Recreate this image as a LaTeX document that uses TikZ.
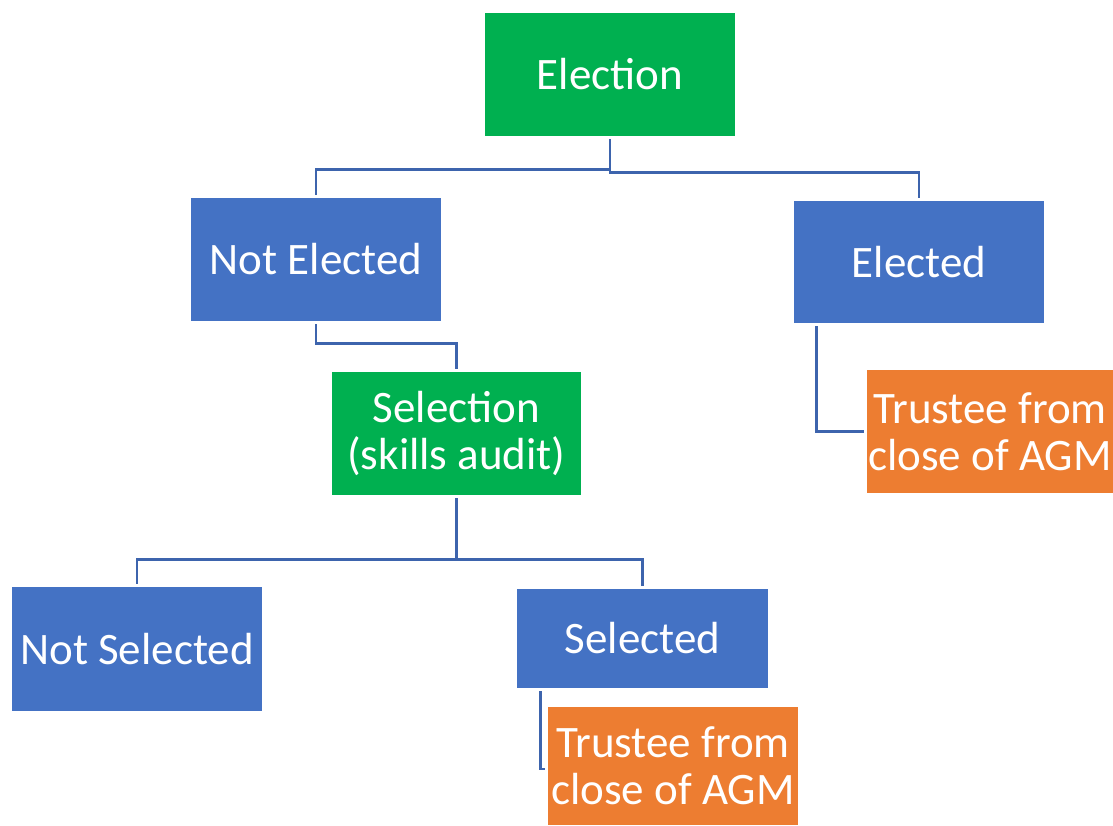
\documentclass[tikz,border=0pt]{standalone}
\usepackage{fontspec}
\setmainfont{Carlito}
\definecolor{cgreen}{HTML}{00B050}
\definecolor{cblue}{HTML}{4472C4}
\definecolor{corange}{HTML}{ED7D31}
\definecolor{cline}{HTML}{3D64AD}
\begin{document}
\begin{tikzpicture}[x=0.75pt,y=-0.75pt,
  box/.style={rectangle,inner sep=0pt,text=white,align=center,
    font=\fontsize{33.75pt}{35.5pt}\selectfont},
  gbox/.style={box,fill=cgreen},
  bbox/.style={box,fill=cblue},
  obox/.style={box,fill=corange},
  conn/.style={draw=cline,line width=1.9pt,shorten <=2.25pt,shorten >=2.25pt}]
\useasboundingbox (0,0) rectangle (1113,825);
\node[gbox,minimum width=187.5pt,minimum height=92.25pt] (elec) at (610,74.5) {Election};
\node[bbox,minimum width=187.5pt,minimum height=92.25pt] (notel) at (316,259.5) {Not Elected};
\node[bbox,minimum width=187.5pt,minimum height=91.5pt] (elected) at (919,262) {Elected};
\node[gbox,minimum width=186.75pt,minimum height=92.25pt] (sel) at (456.5,433.5) {Selection\\(skills audit)};
\node[obox,minimum width=184.5pt,minimum height=92.25pt] (trR) at (990,431.5) {Trustee from\\close of AGM};
\node[bbox,minimum width=187.5pt,minimum height=93pt] (notsel) at (137,649) {Not Selected};
\node[bbox,minimum width=188.25pt,minimum height=74.25pt] (selb) at (642.5,638.5) {Selected};
\node[obox,minimum width=187.5pt,minimum height=88.5pt] (trB) at (673,766) {Trustee from\\close of AGM};
\draw[conn] (elec.south) -- ++(0,33) -| (notel.north);
\draw[conn] (elec.south) -- ++(0,36) -| (elected.north);
\draw[conn] (notel.south) -- ++(0,22) -| (sel.north);
\draw[conn] (sel.south) -- ++(0,64) -| (notsel.north);
\draw[conn] (sel.south) -- ++(0,64) -| (selb.north);
\draw[conn] ([xshift=17.25pt]elected.south west) |- (trR.west);
\draw[conn] ([xshift=18pt]selb.south west) |- ([yshift=-2.25pt]trB.west);
\end{tikzpicture}
\end{document}
